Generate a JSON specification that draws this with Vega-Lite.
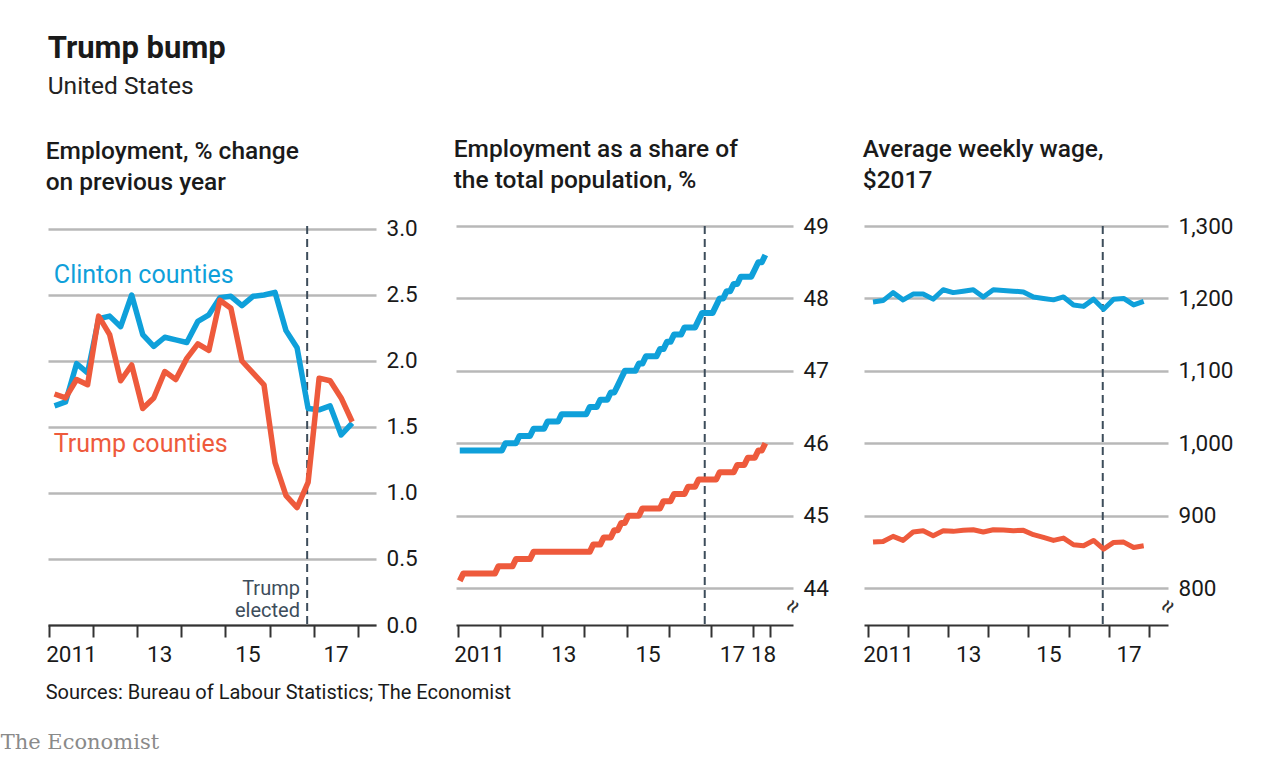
{
"$schema": "https://vega.github.io/schema/vega-lite/v6.json",
"padding": {"left": 0, "top": 33, "right": 0, "bottom": 0},
"background": "white",
"config": {"view": {"stroke": null}, "font": "Roboto", "axis": {"labelFont": "Roboto", "labelColor": "#1a1a1a"}},
"title": {"text": "Trump bump", "subtitle": "United States", "anchor": "start", "dx": 47, "baseline": "top", "font": "Roboto", "fontSize": 31, "fontWeight": "bold", "color": "#1a1a1a", "subtitleFont": "Roboto", "subtitleFontSize": 24.5, "subtitleColor": "#222222", "subtitlePadding": 10, "offset": 37},
"datasets": {
"one": [{}],
"emp": [
{"s":"Clinton","x":2011.125,"y":1.66},{"s":"Clinton","x":2011.375,"y":1.69},{"s":"Clinton","x":2011.625,"y":1.98},{"s":"Clinton","x":2011.875,"y":1.91},
{"s":"Clinton","x":2012.125,"y":2.32},{"s":"Clinton","x":2012.375,"y":2.34},{"s":"Clinton","x":2012.625,"y":2.26},{"s":"Clinton","x":2012.875,"y":2.50},
{"s":"Clinton","x":2013.125,"y":2.20},{"s":"Clinton","x":2013.375,"y":2.11},{"s":"Clinton","x":2013.625,"y":2.18},{"s":"Clinton","x":2013.875,"y":2.16},
{"s":"Clinton","x":2014.125,"y":2.14},{"s":"Clinton","x":2014.375,"y":2.30},{"s":"Clinton","x":2014.625,"y":2.35},{"s":"Clinton","x":2014.875,"y":2.48},
{"s":"Clinton","x":2015.125,"y":2.49},{"s":"Clinton","x":2015.375,"y":2.42},{"s":"Clinton","x":2015.625,"y":2.49},{"s":"Clinton","x":2015.875,"y":2.50},
{"s":"Clinton","x":2016.125,"y":2.52},{"s":"Clinton","x":2016.375,"y":2.23},{"s":"Clinton","x":2016.625,"y":2.10},{"s":"Clinton","x":2016.875,"y":1.64},
{"s":"Clinton","x":2017.125,"y":1.63},{"s":"Clinton","x":2017.375,"y":1.66},{"s":"Clinton","x":2017.625,"y":1.44},{"s":"Clinton","x":2017.875,"y":1.53},
{"s":"Trump","x":2011.125,"y":1.75},{"s":"Trump","x":2011.375,"y":1.72},{"s":"Trump","x":2011.625,"y":1.86},{"s":"Trump","x":2011.875,"y":1.82},
{"s":"Trump","x":2012.125,"y":2.34},{"s":"Trump","x":2012.375,"y":2.20},{"s":"Trump","x":2012.625,"y":1.85},{"s":"Trump","x":2012.875,"y":1.97},
{"s":"Trump","x":2013.125,"y":1.64},{"s":"Trump","x":2013.375,"y":1.72},{"s":"Trump","x":2013.625,"y":1.92},{"s":"Trump","x":2013.875,"y":1.86},
{"s":"Trump","x":2014.125,"y":2.02},{"s":"Trump","x":2014.375,"y":2.13},{"s":"Trump","x":2014.625,"y":2.08},{"s":"Trump","x":2014.875,"y":2.46},
{"s":"Trump","x":2015.125,"y":2.40},{"s":"Trump","x":2015.375,"y":2.00},{"s":"Trump","x":2015.625,"y":1.91},{"s":"Trump","x":2015.875,"y":1.82},
{"s":"Trump","x":2016.125,"y":1.23},{"s":"Trump","x":2016.375,"y":0.98},{"s":"Trump","x":2016.625,"y":0.89},{"s":"Trump","x":2016.875,"y":1.08},
{"s":"Trump","x":2017.125,"y":1.87},{"s":"Trump","x":2017.375,"y":1.85},{"s":"Trump","x":2017.625,"y":1.72},{"s":"Trump","x":2017.875,"y":1.54}
],
"share": [
{"s":"Clinton","x":2011.042,"y":45.9},{"s":"Clinton","x":2011.125,"y":45.9},{"s":"Clinton","x":2011.208,"y":45.9},{"s":"Clinton","x":2011.292,"y":45.9},{"s":"Clinton","x":2011.375,"y":45.9},{"s":"Clinton","x":2011.458,"y":45.9},{"s":"Clinton","x":2011.542,"y":45.9},{"s":"Clinton","x":2011.625,"y":45.9},{"s":"Clinton","x":2011.708,"y":45.9},{"s":"Clinton","x":2011.792,"y":45.9},{"s":"Clinton","x":2011.875,"y":45.9},{"s":"Clinton","x":2011.958,"y":45.9},
{"s":"Clinton","x":2012.042,"y":45.9},{"s":"Clinton","x":2012.125,"y":46.0},{"s":"Clinton","x":2012.208,"y":46.0},{"s":"Clinton","x":2012.292,"y":46.0},{"s":"Clinton","x":2012.375,"y":46.0},{"s":"Clinton","x":2012.458,"y":46.1},{"s":"Clinton","x":2012.542,"y":46.1},{"s":"Clinton","x":2012.625,"y":46.1},{"s":"Clinton","x":2012.708,"y":46.1},{"s":"Clinton","x":2012.792,"y":46.2},{"s":"Clinton","x":2012.875,"y":46.2},{"s":"Clinton","x":2012.958,"y":46.2},
{"s":"Clinton","x":2013.042,"y":46.2},{"s":"Clinton","x":2013.125,"y":46.3},{"s":"Clinton","x":2013.208,"y":46.3},{"s":"Clinton","x":2013.292,"y":46.3},{"s":"Clinton","x":2013.375,"y":46.3},{"s":"Clinton","x":2013.458,"y":46.4},{"s":"Clinton","x":2013.542,"y":46.4},{"s":"Clinton","x":2013.625,"y":46.4},{"s":"Clinton","x":2013.708,"y":46.4},{"s":"Clinton","x":2013.792,"y":46.4},{"s":"Clinton","x":2013.875,"y":46.4},{"s":"Clinton","x":2013.958,"y":46.4},
{"s":"Clinton","x":2014.042,"y":46.4},{"s":"Clinton","x":2014.125,"y":46.5},{"s":"Clinton","x":2014.208,"y":46.5},{"s":"Clinton","x":2014.292,"y":46.5},{"s":"Clinton","x":2014.375,"y":46.6},{"s":"Clinton","x":2014.458,"y":46.6},{"s":"Clinton","x":2014.542,"y":46.6},{"s":"Clinton","x":2014.625,"y":46.7},{"s":"Clinton","x":2014.708,"y":46.7},{"s":"Clinton","x":2014.792,"y":46.8},{"s":"Clinton","x":2014.875,"y":46.9},{"s":"Clinton","x":2014.958,"y":47.0},
{"s":"Clinton","x":2015.042,"y":47.0},{"s":"Clinton","x":2015.125,"y":47.0},{"s":"Clinton","x":2015.208,"y":47.0},{"s":"Clinton","x":2015.292,"y":47.1},{"s":"Clinton","x":2015.375,"y":47.1},{"s":"Clinton","x":2015.458,"y":47.2},{"s":"Clinton","x":2015.542,"y":47.2},{"s":"Clinton","x":2015.625,"y":47.2},{"s":"Clinton","x":2015.708,"y":47.2},{"s":"Clinton","x":2015.792,"y":47.3},{"s":"Clinton","x":2015.875,"y":47.3},{"s":"Clinton","x":2015.958,"y":47.4},
{"s":"Clinton","x":2016.042,"y":47.4},{"s":"Clinton","x":2016.125,"y":47.5},{"s":"Clinton","x":2016.208,"y":47.5},{"s":"Clinton","x":2016.292,"y":47.5},{"s":"Clinton","x":2016.375,"y":47.6},{"s":"Clinton","x":2016.458,"y":47.6},{"s":"Clinton","x":2016.542,"y":47.6},{"s":"Clinton","x":2016.625,"y":47.6},{"s":"Clinton","x":2016.708,"y":47.7},{"s":"Clinton","x":2016.792,"y":47.8},{"s":"Clinton","x":2016.875,"y":47.8},{"s":"Clinton","x":2016.958,"y":47.8},
{"s":"Clinton","x":2017.042,"y":47.8},{"s":"Clinton","x":2017.125,"y":47.9},{"s":"Clinton","x":2017.208,"y":48.0},{"s":"Clinton","x":2017.292,"y":48.0},{"s":"Clinton","x":2017.375,"y":48.1},{"s":"Clinton","x":2017.458,"y":48.1},{"s":"Clinton","x":2017.542,"y":48.2},{"s":"Clinton","x":2017.625,"y":48.2},{"s":"Clinton","x":2017.708,"y":48.3},{"s":"Clinton","x":2017.792,"y":48.3},{"s":"Clinton","x":2017.875,"y":48.3},{"s":"Clinton","x":2017.958,"y":48.3},
{"s":"Clinton","x":2018.042,"y":48.4},{"s":"Clinton","x":2018.125,"y":48.5},{"s":"Clinton","x":2018.208,"y":48.5},{"s":"Clinton","x":2018.292,"y":48.6},
{"s":"Trump","x":2011.042,"y":44.1},{"s":"Trump","x":2011.125,"y":44.2},{"s":"Trump","x":2011.208,"y":44.2},{"s":"Trump","x":2011.292,"y":44.2},{"s":"Trump","x":2011.375,"y":44.2},{"s":"Trump","x":2011.458,"y":44.2},{"s":"Trump","x":2011.542,"y":44.2},{"s":"Trump","x":2011.625,"y":44.2},{"s":"Trump","x":2011.708,"y":44.2},{"s":"Trump","x":2011.792,"y":44.2},{"s":"Trump","x":2011.875,"y":44.2},{"s":"Trump","x":2011.958,"y":44.3},
{"s":"Trump","x":2012.042,"y":44.3},{"s":"Trump","x":2012.125,"y":44.3},{"s":"Trump","x":2012.208,"y":44.3},{"s":"Trump","x":2012.292,"y":44.3},{"s":"Trump","x":2012.375,"y":44.4},{"s":"Trump","x":2012.458,"y":44.4},{"s":"Trump","x":2012.542,"y":44.4},{"s":"Trump","x":2012.625,"y":44.4},{"s":"Trump","x":2012.708,"y":44.4},{"s":"Trump","x":2012.792,"y":44.5},{"s":"Trump","x":2012.875,"y":44.5},{"s":"Trump","x":2012.958,"y":44.5},
{"s":"Trump","x":2013.042,"y":44.5},{"s":"Trump","x":2013.125,"y":44.5},{"s":"Trump","x":2013.208,"y":44.5},{"s":"Trump","x":2013.292,"y":44.5},{"s":"Trump","x":2013.375,"y":44.5},{"s":"Trump","x":2013.458,"y":44.5},{"s":"Trump","x":2013.542,"y":44.5},{"s":"Trump","x":2013.625,"y":44.5},{"s":"Trump","x":2013.708,"y":44.5},{"s":"Trump","x":2013.792,"y":44.5},{"s":"Trump","x":2013.875,"y":44.5},{"s":"Trump","x":2013.958,"y":44.5},
{"s":"Trump","x":2014.042,"y":44.5},{"s":"Trump","x":2014.125,"y":44.5},{"s":"Trump","x":2014.208,"y":44.6},{"s":"Trump","x":2014.292,"y":44.6},{"s":"Trump","x":2014.375,"y":44.6},{"s":"Trump","x":2014.458,"y":44.7},{"s":"Trump","x":2014.542,"y":44.7},{"s":"Trump","x":2014.625,"y":44.7},{"s":"Trump","x":2014.708,"y":44.8},{"s":"Trump","x":2014.792,"y":44.8},{"s":"Trump","x":2014.875,"y":44.9},{"s":"Trump","x":2014.958,"y":44.9},
{"s":"Trump","x":2015.042,"y":45.0},{"s":"Trump","x":2015.125,"y":45.0},{"s":"Trump","x":2015.208,"y":45.0},{"s":"Trump","x":2015.292,"y":45.0},{"s":"Trump","x":2015.375,"y":45.1},{"s":"Trump","x":2015.458,"y":45.1},{"s":"Trump","x":2015.542,"y":45.1},{"s":"Trump","x":2015.625,"y":45.1},{"s":"Trump","x":2015.708,"y":45.1},{"s":"Trump","x":2015.792,"y":45.1},{"s":"Trump","x":2015.875,"y":45.2},{"s":"Trump","x":2015.958,"y":45.2},
{"s":"Trump","x":2016.042,"y":45.2},{"s":"Trump","x":2016.125,"y":45.3},{"s":"Trump","x":2016.208,"y":45.3},{"s":"Trump","x":2016.292,"y":45.3},{"s":"Trump","x":2016.375,"y":45.3},{"s":"Trump","x":2016.458,"y":45.4},{"s":"Trump","x":2016.542,"y":45.4},{"s":"Trump","x":2016.625,"y":45.4},{"s":"Trump","x":2016.708,"y":45.5},{"s":"Trump","x":2016.792,"y":45.5},{"s":"Trump","x":2016.875,"y":45.5},{"s":"Trump","x":2016.958,"y":45.5},
{"s":"Trump","x":2017.042,"y":45.5},{"s":"Trump","x":2017.125,"y":45.5},{"s":"Trump","x":2017.208,"y":45.6},{"s":"Trump","x":2017.292,"y":45.6},{"s":"Trump","x":2017.375,"y":45.6},{"s":"Trump","x":2017.458,"y":45.6},{"s":"Trump","x":2017.542,"y":45.6},{"s":"Trump","x":2017.625,"y":45.7},{"s":"Trump","x":2017.708,"y":45.7},{"s":"Trump","x":2017.792,"y":45.7},{"s":"Trump","x":2017.875,"y":45.8},{"s":"Trump","x":2017.958,"y":45.8},
{"s":"Trump","x":2018.042,"y":45.8},{"s":"Trump","x":2018.125,"y":45.9},{"s":"Trump","x":2018.208,"y":45.9},{"s":"Trump","x":2018.292,"y":46.0}
],
"wage": [
{"s":"Clinton","x":2011.125,"y":1195},{"s":"Clinton","x":2011.375,"y":1197},{"s":"Clinton","x":2011.625,"y":1208},{"s":"Clinton","x":2011.875,"y":1198},
{"s":"Clinton","x":2012.125,"y":1206},{"s":"Clinton","x":2012.375,"y":1206},{"s":"Clinton","x":2012.625,"y":1199},{"s":"Clinton","x":2012.875,"y":1212},
{"s":"Clinton","x":2013.125,"y":1208},{"s":"Clinton","x":2013.375,"y":1210},{"s":"Clinton","x":2013.625,"y":1212},{"s":"Clinton","x":2013.875,"y":1202},
{"s":"Clinton","x":2014.125,"y":1212},{"s":"Clinton","x":2014.375,"y":1211},{"s":"Clinton","x":2014.625,"y":1210},{"s":"Clinton","x":2014.875,"y":1209},
{"s":"Clinton","x":2015.125,"y":1202},{"s":"Clinton","x":2015.375,"y":1200},{"s":"Clinton","x":2015.625,"y":1198},{"s":"Clinton","x":2015.875,"y":1202},
{"s":"Clinton","x":2016.125,"y":1191},{"s":"Clinton","x":2016.375,"y":1189},{"s":"Clinton","x":2016.625,"y":1199},{"s":"Clinton","x":2016.875,"y":1185},
{"s":"Clinton","x":2017.125,"y":1199},{"s":"Clinton","x":2017.375,"y":1200},{"s":"Clinton","x":2017.625,"y":1191},{"s":"Clinton","x":2017.875,"y":1196},
{"s":"Trump","x":2011.125,"y":863.5},{"s":"Trump","x":2011.375,"y":864.4},{"s":"Trump","x":2011.625,"y":871.4},{"s":"Trump","x":2011.875,"y":865.8},
{"s":"Trump","x":2012.125,"y":877.4},{"s":"Trump","x":2012.375,"y":879.2},{"s":"Trump","x":2012.625,"y":872.3},{"s":"Trump","x":2012.875,"y":879.2},
{"s":"Trump","x":2013.125,"y":878.3},{"s":"Trump","x":2013.375,"y":879.7},{"s":"Trump","x":2013.625,"y":880.6},{"s":"Trump","x":2013.875,"y":877.4},
{"s":"Trump","x":2014.125,"y":880.6},{"s":"Trump","x":2014.375,"y":880.1},{"s":"Trump","x":2014.625,"y":879.2},{"s":"Trump","x":2014.875,"y":879.7},
{"s":"Trump","x":2015.125,"y":873.7},{"s":"Trump","x":2015.375,"y":870.0},{"s":"Trump","x":2015.625,"y":865.8},{"s":"Trump","x":2015.875,"y":869.0},
{"s":"Trump","x":2016.125,"y":859.8},{"s":"Trump","x":2016.375,"y":858.4},{"s":"Trump","x":2016.625,"y":865.8},{"s":"Trump","x":2016.875,"y":853.8},
{"s":"Trump","x":2017.125,"y":863.0},{"s":"Trump","x":2017.375,"y":863.5},{"s":"Trump","x":2017.625,"y":856.1},{"s":"Trump","x":2017.875,"y":858.4}
]
},
"vconcat": [
{
"title": {"text": "The Economist", "orient": "bottom", "anchor": "start", "dx": -45, "font": "DejaVu Serif", "fontSize": 21, "fontWeight": "normal", "color": "#8a8a8a", "offset": 29},
"vconcat": [
{
"title": {"text": "Sources: Bureau of Labour Statistics; The Economist", "orient": "bottom", "anchor": "start", "font": "Roboto", "fontSize": 20, "fontWeight": "normal", "color": "#1a1a1a", "offset": 17},
"bounds": "flush",
"spacing": 80,
"hconcat": [
{
"width": 328, "height": 399,
"title": {"text": ["Employment, % change", "on previous year"], "anchor": "start", "font": "Roboto", "fontSize": 24.5, "fontWeight": 500, "color": "#1a1a1a", "lineHeight": 31, "offset": 22},
"layer": [
{"data": {"name": "one"}, "mark": {"type": "rule", "strokeDash": [8, 5], "strokeWidth": 2, "color": "#3d4d5b"}, "encoding": {"x": {"datum": 2016.854, "type": "quantitative"}}},
{"data": {"name": "emp"}, "mark": {"type": "line", "strokeWidth": 5.5, "strokeJoin": "round", "strokeCap": "butt"},
 "encoding": {
  "x": {"field": "x", "type": "quantitative", "scale": {"domain": [2010.977, 2018.415], "nice": false, "zero": false},
        "axis": {"values": [2011, 2012, 2013, 2014, 2015, 2016, 2017, 2018], "title": null, "grid": false, "tickSize": 12, "tickWidth": 2, "tickColor": "#333333", "domainColor": "#333333", "domainWidth": 2, "labelExpr": "datum.value == 2011 ? '2011' : datum.value == 2013 ? '13' : datum.value == 2015 ? '15' : datum.value == 2017 ? '17' : ''", "labelOffset": 22, "labelPadding": 6, "labelFontSize": 22.5, "labelOverlap": false, "labelBound": false, "labelFlush": false}},
  "y": {"field": "y", "type": "quantitative", "scale": {"domain": [0, 3.0227], "nice": false, "zero": false},
        "axis": {"orient": "right", "values": [0, 0.5, 1, 1.5, 2, 2.5, 3], "format": ".1f", "title": null, "grid": true, "gridColor": "#b8b8b8", "gridWidth": 2.5, "domain": false, "ticks": false, "labelPadding": 10, "labelFontSize": 22.5}},
  "color": {"field": "s", "type": "nominal", "scale": {"domain": ["Clinton", "Trump"], "range": ["#0fa0da", "#ee5a3c"]}, "legend": null}
 }},
{"data": {"name": "one"}, "mark": {"type": "text", "text": "Clinton counties", "align": "left", "baseline": "alphabetic", "fontSize": 25, "fontWeight": "normal", "color": "#0fa0da"}, "encoding": {"x": {"datum": 2011.11, "type": "quantitative"}, "y": {"datum": 2.59, "type": "quantitative"}}},
{"data": {"name": "one"}, "mark": {"type": "text", "text": "Trump counties", "align": "left", "baseline": "alphabetic", "fontSize": 25, "fontWeight": "normal", "color": "#ee5a3c"}, "encoding": {"x": {"datum": 2011.11, "type": "quantitative"}, "y": {"datum": 1.31, "type": "quantitative"}}},
{"data": {"name": "one"}, "mark": {"type": "text", "text": ["Trump", "elected"], "align": "right", "baseline": "alphabetic", "fontSize": 20, "lineHeight": 22, "color": "#3d4d5b"}, "encoding": {"x": {"datum": 2016.69, "type": "quantitative"}, "y": {"datum": 0.227, "type": "quantitative"}}}
]
},
{
"bounds": "flush",
"spacing": 71,
"hconcat": [
{
"width": 337, "height": 399,
"title": {"text": ["Employment as a share of", "the total population, %"], "anchor": "start", "font": "Roboto", "fontSize": 24.5, "fontWeight": 500, "color": "#1a1a1a", "lineHeight": 31, "offset": 22},
"layer": [
{"data": {"name": "one"}, "mark": {"type": "rule", "strokeDash": [8, 5], "strokeWidth": 2, "color": "#3d4d5b"}, "encoding": {"x": {"datum": 2016.854, "type": "quantitative"}}},
{"data": {"name": "share"}, "mark": {"type": "line", "strokeWidth": 6, "strokeJoin": "round", "strokeCap": "butt"},
 "encoding": {
  "x": {"field": "x", "type": "quantitative", "scale": {"domain": [2010.9526, 2018.948], "nice": false, "zero": false},
        "axis": {"values": [2011, 2012, 2013, 2014, 2015, 2016, 2017, 2018, 2018.4], "title": null, "grid": false, "tickSize": 12, "tickWidth": 2, "tickColor": "#333333", "domainColor": "#333333", "domainWidth": 2, "labelExpr": "datum.value == 2011 ? '2011' : datum.value == 2013 ? '13' : datum.value == 2015 ? '15' : datum.value == 2017 ? '17' : datum.value == 2018 ? '18' : ''", "labelOffset": {"condition": {"test": "datum.value == 2018", "value": 10}, "value": 21}, "labelPadding": 6, "labelFontSize": 22.5, "labelOverlap": false, "labelBound": false, "labelFlush": false}},
  "y": {"field": "y", "type": "quantitative", "scale": {"domain": [43.49, 49], "nice": false, "zero": false},
        "axis": {"orient": "right", "values": [44, 45, 46, 47, 48, 49], "format": "d", "title": null, "grid": true, "gridColor": "#b8b8b8", "gridWidth": 2.5, "domain": false, "ticks": false, "labelPadding": 10, "labelFontSize": 22.5}},
  "color": {"field": "s", "type": "nominal", "scale": {"domain": ["Clinton", "Trump"], "range": ["#0fa0da", "#ee5a3c"]}, "legend": null}
 }},
{"data": {"name": "one"}, "mark": {"type": "text", "text": "≈", "angle": 300, "align": "center", "baseline": "middle", "fontSize": 24, "color": "#333333", "dx": 16, "dy": -9}, "encoding": {"x": {"datum": 2018.948, "type": "quantitative"}, "y": {"datum": 43.49, "type": "quantitative"}}}
]
},
{
"width": 304, "height": 399,
"title": {"text": ["Average weekly wage,", "$2017"], "anchor": "start", "font": "Roboto", "fontSize": 24.5, "fontWeight": 500, "color": "#1a1a1a", "lineHeight": 31, "offset": 22},
"layer": [
{"data": {"name": "one"}, "mark": {"type": "rule", "strokeDash": [8, 5], "strokeWidth": 2, "color": "#3d4d5b"}, "encoding": {"x": {"datum": 2016.854, "type": "quantitative"}}},
{"data": {"name": "wage"}, "mark": {"type": "line", "strokeWidth": 5, "strokeJoin": "round", "strokeCap": "butt"},
 "encoding": {
  "x": {"field": "x", "type": "quantitative", "scale": {"domain": [2010.9, 2018.481], "nice": false, "zero": false},
        "axis": {"values": [2011, 2012, 2013, 2014, 2015, 2016, 2017, 2018], "title": null, "grid": false, "tickSize": 12, "tickWidth": 2, "tickColor": "#333333", "domainColor": "#333333", "domainWidth": 2, "labelExpr": "datum.value == 2011 ? '2011' : datum.value == 2013 ? '13' : datum.value == 2015 ? '15' : datum.value == 2017 ? '17' : ''", "labelOffset": 20, "labelPadding": 6, "labelFontSize": 22.5, "labelOverlap": false, "labelBound": false, "labelFlush": false}},
  "y": {"field": "y", "type": "quantitative", "scale": {"domain": [749, 1300], "nice": false, "zero": false},
        "axis": {"orient": "right", "values": [800, 900, 1000, 1100, 1200, 1300], "format": ",.0f", "title": null, "grid": true, "gridColor": "#b8b8b8", "gridWidth": 2.5, "domain": false, "ticks": false, "labelPadding": 10, "labelFontSize": 22.5}},
  "color": {"field": "s", "type": "nominal", "scale": {"domain": ["Clinton", "Trump"], "range": ["#0fa0da", "#ee5a3c"]}, "legend": null}
 }},
{"data": {"name": "one"}, "mark": {"type": "text", "text": "≈", "angle": 300, "align": "center", "baseline": "middle", "fontSize": 24, "color": "#333333", "dx": 16, "dy": -9}, "encoding": {"x": {"datum": 2018.481, "type": "quantitative"}, "y": {"datum": 749, "type": "quantitative"}}}
]
}
]
}
]
}
]
}
]
}
